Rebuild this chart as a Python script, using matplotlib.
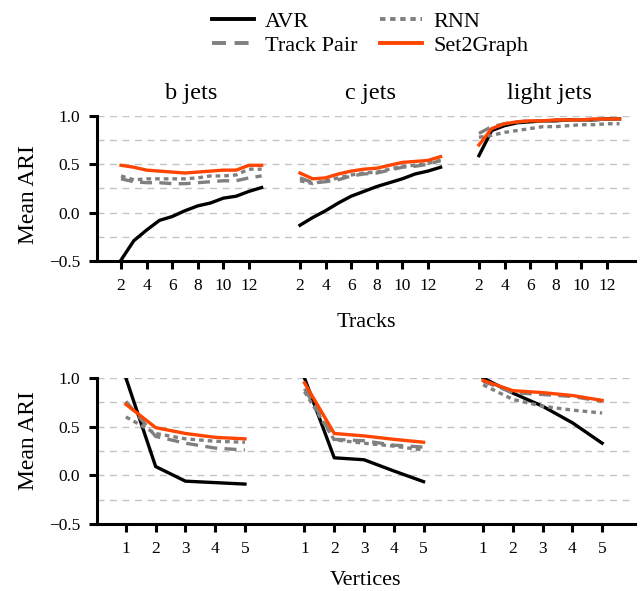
import numpy as np
import matplotlib
matplotlib.use("Agg")
import matplotlib.pyplot as plt
from matplotlib.lines import Line2D

plt.rcParams['font.family'] = ['Liberation Serif', 'DejaVu Serif']

flavours = ["b jets", "c jets", "light jets"]
methods = ["AVR", "Track Pair", "RNN", "Set2Graph"]

# top row: mean ARI vs number of tracks
tracks = [2, 3, 4, 5, 6, 7, 8, 9, 10, 11, 12, 13]
b_tracks_avr = [-0.49, -0.29, -0.18, -0.08, -0.04, 0.02, 0.07, 0.10, 0.15, 0.17, 0.22, 0.26]
b_tracks_pair = [0.35, 0.32, 0.31, 0.31, 0.30, 0.30, 0.31, 0.32, 0.33, 0.33, 0.36, 0.38]
b_tracks_rnn = [0.38, 0.34, 0.35, 0.35, 0.35, 0.35, 0.36, 0.38, 0.38, 0.39, 0.45, 0.45]
b_tracks_s2g = [0.49, 0.47, 0.44, 0.43, 0.42, 0.41, 0.42, 0.43, 0.44, 0.44, 0.49, 0.49]

c_tracks_avr = [-0.13, -0.05, 0.02, 0.10, 0.17, 0.22, 0.27, 0.31, 0.35, 0.40, 0.43, 0.47]
c_tracks_pair = [0.36, 0.31, 0.32, 0.34, 0.38, 0.40, 0.41, 0.44, 0.47, 0.48, 0.50, 0.54]
c_tracks_rnn = [0.33, 0.30, 0.33, 0.36, 0.39, 0.41, 0.42, 0.45, 0.48, 0.49, 0.51, 0.54]
c_tracks_s2g = [0.41, 0.35, 0.36, 0.40, 0.43, 0.45, 0.46, 0.49, 0.52, 0.53, 0.54, 0.58]

l_tracks_avr = [0.59, 0.85, 0.90, 0.93, 0.94, 0.95, 0.95, 0.96, 0.96, 0.96, 0.97, 0.97]
l_tracks_pair = [0.82, 0.89, 0.92, 0.94, 0.95, 0.95, 0.96, 0.96, 0.96, 0.96, 0.97, 0.97]
l_tracks_rnn = [0.78, 0.80, 0.83, 0.85, 0.87, 0.89, 0.89, 0.90, 0.91, 0.91, 0.92, 0.92]
l_tracks_s2g = [0.70, 0.87, 0.92, 0.94, 0.95, 0.95, 0.96, 0.96, 0.96, 0.97, 0.97, 0.97]

# bottom row: mean ARI vs number of vertices
vertices = [1, 2, 3, 4, 5]
b_vert_avr = [1.0, 0.09, -0.06, -0.075, -0.09]
b_vert_pair = [0.76, 0.40, 0.33, 0.28, 0.26]
b_vert_rnn = [0.60, 0.43, 0.375, 0.35, 0.34]
b_vert_s2g = [0.73, 0.49, 0.43, 0.39, 0.375]

c_vert_avr = [1.0, 0.18, 0.16, 0.045, -0.065]
c_vert_pair = [0.89, 0.37, 0.355, 0.31, 0.29]
c_vert_rnn = [0.86, 0.365, 0.33, 0.30, 0.26]
c_vert_s2g = [0.95, 0.43, 0.405, 0.37, 0.34]

l_vert_avr = [1.0, 0.845, 0.71, 0.54, 0.33]
l_vert_pair = [0.965, 0.85, 0.83, 0.81, 0.76]
l_vert_rnn = [0.93, 0.78, 0.71, 0.67, 0.64]
l_vert_s2g = [0.975, 0.87, 0.85, 0.82, 0.77]

tracks_rows = [
    [b_tracks_avr, b_tracks_pair, b_tracks_rnn, b_tracks_s2g],
    [c_tracks_avr, c_tracks_pair, c_tracks_rnn, c_tracks_s2g],
    [l_tracks_avr, l_tracks_pair, l_tracks_rnn, l_tracks_s2g],
]
vert_rows = [
    [b_vert_avr, b_vert_pair, b_vert_rnn, b_vert_s2g],
    [c_vert_avr, c_vert_pair, c_vert_rnn, c_vert_s2g],
    [l_vert_avr, l_vert_pair, l_vert_rnn, l_vert_s2g],
]

styles = [
    dict(color="black", ls="-"),
    dict(color="#808080", ls=(0, (3.6, 2.2))),
    dict(color="#808080", ls=(0, (1.4, 1.2))),
    dict(color="#ff4500", ls="-"),
]
lw = 2.4

fig = plt.figure(figsize=(6.4, 5.91), dpi=100)
ax1 = fig.add_axes([0.1516, 0.5584, 0.8404, 0.2453])
ax2 = fig.add_axes([0.1516, 0.1134, 0.8404, 0.2470])


def panel(ax, x, rows, offset, ticks, xlim, xlabel, titles, ylab_y, xpad):
    x = np.array(x)
    tick_pos, tick_lab = [], []
    for g, series in enumerate(rows):
        for s, y in enumerate(series):
            ax.plot(x + g * offset, y, lw=lw, zorder=3 + s, **styles[s])
        tick_pos += [t + g * offset for t in ticks]
        tick_lab += [str(t) for t in ticks]
        if titles:
            ax.text(np.mean([x[0], x[-1]]) + g * offset, 1.12, flavours[g],
                    ha="center", va="bottom", fontsize=17.5)
    for gy in [-0.25, 0, 0.25, 0.5, 0.75, 1.0]:
        ax.axhline(gy, color="#c4c4c4", ls=(0, (5, 4)), lw=1, zorder=1)
    ax.set_xticks(tick_pos)
    ax.set_xticklabels(tick_lab)
    ax.set_xlim(*xlim)
    ax.set_ylim(-0.5, 1.0)
    ax.set_yticks([-0.5, 0.0, 0.5, 1.0])
    ax.set_ylabel("Mean ARI", fontsize=17)
    ax.yaxis.set_label_coords(-0.107, ylab_y)
    ax.set_xlabel(xlabel, fontsize=16, labelpad=xpad)
    for sp in ["top", "right"]:
        ax.spines[sp].set_visible(False)
    for sp in ["left", "bottom"]:
        ax.spines[sp].set_linewidth(2.2)
    ax.tick_params(width=2.2, length=6, pad=6, labelsize=12.5)


panel(ax1, tracks, tracks_rows, 14, [2, 4, 6, 8, 10, 12], (0.12, 42.2),
      "Tracks", True, 0.46, 14)
panel(ax2, vertices, vert_rows, 6, [1, 2, 3, 4, 5], (0.03, 18.1),
      "Vertices", False, 0.57, 10)

handles = [Line2D([], [], lw=lw + 0.4, **styles[i]) for i in range(4)]
fig.legend(handles, methods, loc="upper center", ncol=2, frameon=False,
           fontsize=16, bbox_to_anchor=(0.578, 1.015), handlelength=1.9,
           columnspacing=1.0, labelspacing=0.15, handletextpad=0.5)

fig.savefig("out.png", dpi=100)
